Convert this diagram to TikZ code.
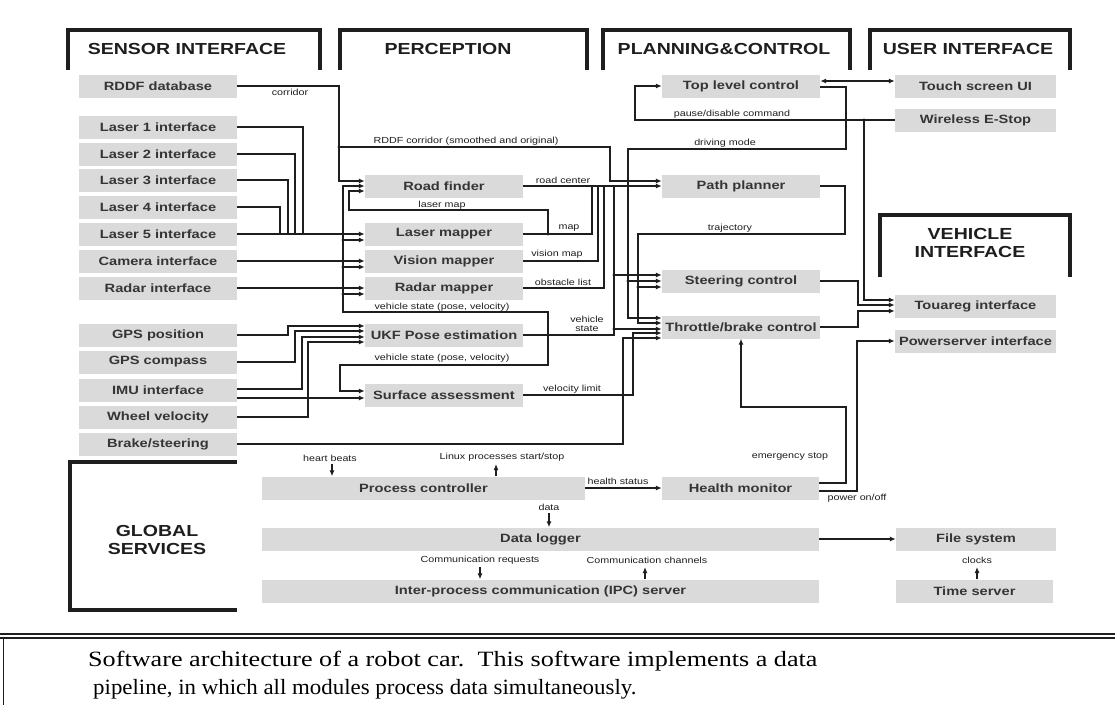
\documentclass[tikz,border=0pt]{standalone}
\usepackage{fontspec}
\setmainfont{Liberation Sans}[FakeStretch=1.22]
\newfontfamily\capfont{Liberation Serif}[FakeStretch=1.2]
\newfontfamily\capfontnarrow{Liberation Serif}[FakeStretch=1.05]
\usetikzlibrary{arrows.meta}
\definecolor{boxgray}{RGB}{218,218,218}
\definecolor{ink}{RGB}{30,30,30}
\newcommand\boxfont{\bfseries\fontsize{12}{13}\selectfont}
\newcommand\lblfont{\fontsize{8.8}{9.5}\selectfont}
\newcommand\hdrfont{\bfseries\fontsize{16}{18}\selectfont}
\tikzset{
  box/.style={fill=boxgray, inner sep=0pt, minimum height=23pt, text=ink!90, font=\boxfont},
  wire/.style={line width=1.2pt, draw=ink},
  arr/.style={wire, -{Latex[length=6pt,width=5pt]}},
  arrtwo/.style={wire, {Latex[length=6pt,width=5pt]}-{Latex[length=6pt,width=5pt]}},
  lbl/.style={font=\lblfont, inner sep=0pt, text=ink},
  hdr/.style={line width=4pt, draw=ink},
  hdrtext/.style={font=\hdrfont, text=ink, align=center, inner sep=0pt},
  jdot/.style={circle, fill=ink, inner sep=0pt, minimum size=3.2pt},
}
\begin{document}
\begin{tikzpicture}[x=1pt,y=-1pt]
\useasboundingbox (0,0) rectangle (1115,705);
\fill[white] (0,0) rectangle (1115,705);

% ---------- group headers ----------
\draw[hdr] (68,70) -- (68,30) -- (320,30) -- (320,70);
\node[hdrtext] (hsens) at (187,49) {SENSOR INTERFACE};
\draw[hdr] (340,70) -- (340,30) -- (587,30) -- (587,70);
\node[hdrtext] (hperc) at (448,49) {PERCEPTION};
\draw[hdr] (603,70) -- (603,30) -- (850,30) -- (850,70);
\node[hdrtext] (hplan) at (724,49) {PLANNING\&CONTROL};
\draw[hdr] (870,70) -- (870,30) -- (1070,30) -- (1070,70);
\node[hdrtext] (huser) at (968,49) {USER INTERFACE};
\draw[hdr] (880,277) -- (880,215) -- (1070,215) -- (1070,277);
\node[hdrtext] (hveh) at (970,243) {VEHICLE\\INTERFACE};
\draw[hdr] (237,462) -- (70,462) -- (70,610) -- (237,610);
\node[hdrtext] (hglob) at (157,540) {GLOBAL\\SERVICES};

% ---------- sensor interface ----------
\node[box, minimum width=158pt] (rddf)  at (158,86)  {RDDF database};
\node[box, minimum width=158pt] (la1)   at (158,127) {Laser 1 interface};
\node[box, minimum width=158pt] (la2)   at (158,154) {Laser 2 interface};
\node[box, minimum width=158pt] (la3)   at (158,180) {Laser 3 interface};
\node[box, minimum width=158pt] (la4)   at (158,207) {Laser 4 interface};
\node[box, minimum width=158pt] (la5)   at (158,234) {Laser 5 interface};
\node[box, minimum width=158pt] (cam)   at (158,261) {Camera interface};
\node[box, minimum width=158pt] (rad)   at (158,288) {Radar interface};
\node[box, minimum width=158pt] (gpsp)  at (158,335) {GPS position};
\node[box, minimum width=158pt] (gpsc)  at (158,362) {GPS compass};
\node[box, minimum width=158pt] (imu)   at (158,390) {IMU interface};
\node[box, minimum width=158pt] (wheel) at (158,417) {Wheel velocity};
\node[box, minimum width=158pt] (brake) at (158,444) {Brake/steering};

% ---------- perception ----------
\node[box, minimum width=158pt] (road) at (444,186) {Road finder};
\node[box, minimum width=158pt] (lmap) at (444,234) {Laser mapper};
\node[box, minimum width=158pt] (vmap) at (444,261) {Vision mapper};
\node[box, minimum width=158pt] (rmap) at (444,288) {Radar mapper};
\node[box, minimum width=158pt] (ukf)  at (444,335) {UKF Pose estimation};
\node[box, minimum width=158pt] (surf) at (444,395) {Surface assessment};

% ---------- planning & control ----------
\node[box, minimum width=158pt] (top)   at (741,86)  {Top level control};
\node[box, minimum width=158pt] (path)  at (741,186) {Path planner};
\node[box, minimum width=158pt] (steer) at (741,281) {Steering control};
\node[box, minimum width=158pt] (thr)   at (741,327) {Throttle/brake control};

% ---------- user and vehicle interface ----------
\node[box, minimum width=161pt] (touch)   at (975.5,86)  {Touch screen UI};
\node[box, minimum width=161pt] (estop)   at (975.5,120) {Wireless E-Stop};
\node[box, minimum width=161pt] (touareg) at (975.5,306) {Touareg interface};
\node[box, minimum width=161pt] (power)   at (975.5,341) {Powerserver interface};

% ---------- global services ----------
\node[box, minimum width=323pt] (proc)   at (423.5,488) {Process controller};
\node[box, minimum width=157pt] (health) at (740.5,488) {Health monitor};
\node[box, minimum width=557pt] (logger) at (540.5,539) {Data logger};
\node[box, minimum width=160pt] (fs)     at (976,539)   {File system};
\node[box, minimum width=557pt] (ipc)    at (540.5,591) {Inter-process communication (IPC) server};
\node[box, minimum width=157pt] (time)   at (974.5,591) {Time server};

% ---------- corridor ----------
\draw[arr] (rddf.east) -| (339,181) -- ([yshift=5pt]road.west);
\node[lbl] (tcorr) at (290,92) {corridor};
\node[jdot] (jc) at (339,147) {};
\draw[arr] (jc.center) -| (610,181) -- ([yshift=5pt]path.west);
\node[lbl] (trddf) at (466,141) {RDDF corridor (smoothed and original)};

% ---------- lasers, camera, radar ----------
\draw[wire] (la1.east) -| (303,234);
\draw[wire] (la2.east) -| (295,234);
\draw[wire] (la3.east) -| (288,234);
\draw[wire] (la4.east) -| (280,234);
\draw[arr] (la5.east) -- (lmap.west);
\draw[arr] (cam.east) -- (vmap.west);
\draw[arr] (rad.east) -- (rmap.west);

% ---------- pose sensors ----------
\draw[arr] (gpsp.east) -| (288,326) -- ([yshift=9pt]ukf.west);
\draw[arr] (gpsc.east) -| (295,331) -- ([yshift=4pt]ukf.west);
\draw[arr] ([yshift=1pt]imu.east) -| (302,337) -- ([yshift=-2pt]ukf.west);
\draw[arr] (wheel.east) -| (308,342) -- ([yshift=-7pt]ukf.west);
\draw[arr] ([yshift=-8pt]imu.east) -- ([yshift=-3pt]surf.west);

% ---------- road finder outputs and maps ----------
\draw[arr] (road.east) -- (path.west);
\node[lbl] (troad) at (563,180) {road center};
\draw[wire] (lmap.east) -| (592,186);
\node[lbl] (tmap) at (569,228) {map};
\draw[wire] (vmap.east) -| (598,186);
\node[lbl] (tvis) at (557,254) {vision map};
\draw[wire] (rmap.east) -| (604,186);
\node[lbl] (tobs) at (563,282) {obstacle list};
\node[jdot] (jl) at (548,234) {};
\draw[arr] (jl.center) |- (349,210) |- ([yshift=-5pt]road.west);
\node[lbl] (tlas) at (442,205) {laser map};

% ---------- vehicle state ----------
\node[jdot] (jv) at (548,335) {};
\draw[wire] (ukf.east) -| (614,186);
\node[lbl, align=center] (tvs) at (587,324) {vehicle\\state};
\draw[arr] (jv.center) |- (343,312) |- (road.west);
\node[lbl] (tvs1) at (442,307) {vehicle state (pose, velocity)};
\node[jdot] (jm1) at (343,240) {};
\node[jdot] (jm2) at (343,267) {};
\node[jdot] (jm3) at (343,294) {};
\draw[arr] (jm1.center) -- ([yshift=-6pt]lmap.west);
\draw[arr] (jm2.center) -- ([yshift=-6pt]vmap.west);
\draw[arr] (jm3.center) -- ([yshift=-6pt]rmap.west);
\draw[arr] (jv.center) |- (340,365) |- ([yshift=4pt]surf.west);
\node[lbl] (tvs2) at (442,358) {vehicle state (pose, velocity)};
\node[jdot] (js) at (614,275) {};
\draw[arr] (js.center) -- ([yshift=6pt]steer.west);
\node[jdot] (jt) at (614,329) {};
\draw[arr] (jt.center) -- ([yshift=-2pt]thr.west);

% ---------- velocity limit and brake/steering ----------
\draw[arr] (surf.east) -| (633,333) -- ([yshift=-6pt]thr.west);
\node[lbl] (tvel) at (572,389) {velocity limit};
\draw[arr] (brake.east) -| (623,338) -- ([yshift=-11pt]thr.west);

% ---------- trajectory ----------
\draw[arr] (path.east) -| (845,234) -| (638,323) -- ([yshift=4pt]thr.west);
\node[lbl] (ttraj) at (730,228) {trajectory};
\node[jdot] (jtr) at (638,287) {};
\draw[arr] (jtr.center) -- ([yshift=-6pt]steer.west);

% ---------- top level control ----------
\draw[arrtwo] ([yshift=5pt]top.east) -- ([yshift=5pt]touch.west);
\draw[arr] ([yshift=-1pt]top.east) -| (846,149) -| (628,318) -- ([yshift=9pt]thr.west);
\node[lbl] (tdrv) at (725,143) {driving mode};
\node[jdot] (jd) at (628,281) {};
\draw[arr] (jd.center) -- (steer.west);
\draw[arr] (estop.west) -| (635,86) -- (top.west);
\node[lbl] (tpause) at (732,114) {pause/disable command};

% ---------- vehicle interface ----------
\node[jdot] (je) at (864,120) {};
\draw[arr] (je.center) |- ([yshift=6pt]touareg.west);
\draw[arr] (steer.east) -| (858,305) -- ([yshift=1pt]touareg.west);
\draw[arr] (thr.east) -| (858,311) -- ([yshift=-5pt]touareg.west);

% ---------- health monitor ----------
\draw[arr] ([yshift=5pt]health.east) -| (846,407) -| (thr.south);
\node[lbl] (temg) at (790,457) {emergency stop};
\draw[arr] ([yshift=-3pt]health.east) -| (857,341) -- (power.west);
\node[lbl] (tpow) at (857,498) {power on/off};

% ---------- global services ----------
\coordinate (hb) at (332,464);
\draw[arr] (hb) -- (proc.north -| hb);
\node[lbl] (thb) at (330,458) {heart beats};
\coordinate (lx) at (496,464);
\draw[arr] (proc.north -| lx) -- (lx);
\node[lbl] (tlx) at (502,457) {Linux processes start/stop};
\draw[arr] (proc.east) -- (health.west);
\node[lbl] (ths) at (618,481) {health status};
\coordinate (dt) at (549,513);
\draw[arr] (dt) -- (logger.north -| dt);
\node[lbl] (tdt) at (549,507) {data};
\draw[arr] (logger.east) -- (fs.west);
\coordinate (cr) at (480,567);
\draw[arr] (cr) -- (ipc.north -| cr);
\node[lbl] (tcr) at (480,560) {Communication requests};
\coordinate (cc) at (645,567);
\draw[arr] (ipc.north -| cc) -- (cc);
\node[lbl] (tcc) at (647,560) {Communication channels};
\coordinate (ck) at (977,567);
\draw[arr] (time.north -| ck) -- (ck);
\node[lbl] (tck) at (977,560) {clocks};

% ---------- caption ----------
\draw[line width=1.2pt, draw=ink] (0,634) -- (1115,634);
\draw[line width=1.2pt, draw=ink] (0,638) -- (1115,638);
\draw[line width=1pt, draw=ink] (3,638) -- (3,705);
\node[anchor=west, inner sep=0pt, font=\capfont\fontsize{21.8}{24}\selectfont] (cap1) at (88,661)
  {Software architecture of a robot car.\ \ This software implements a data};
\node[anchor=west, inner sep=0pt, font=\capfontnarrow\fontsize{21.8}{24}\selectfont] (cap2) at (93,689)
  {pipeline, in which all modules process data simultaneously.};
\end{tikzpicture}
\end{document}
